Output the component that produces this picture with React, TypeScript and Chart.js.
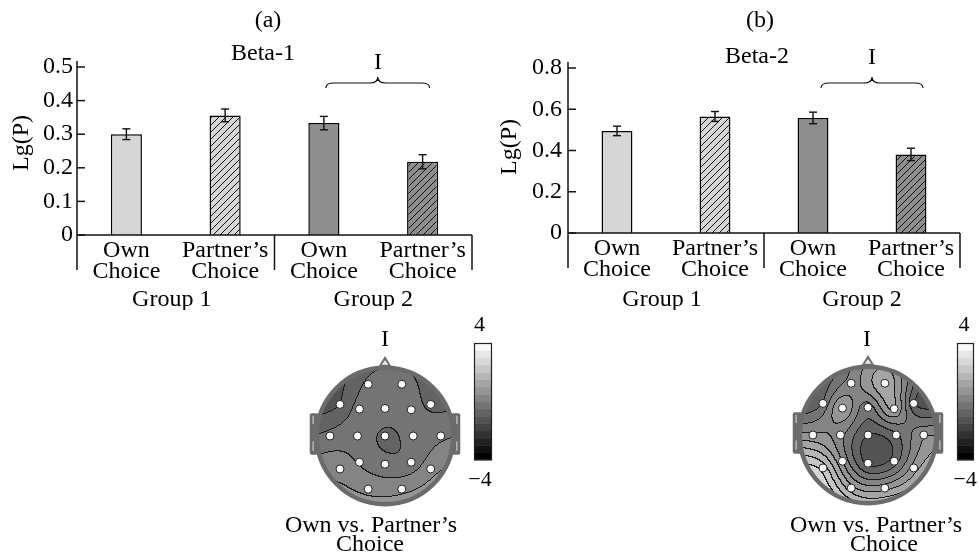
import React, { useEffect, useRef } from "react";
import { Chart, registerables } from "chart.js";
Chart.register(...registerables);

const FONT = "'Liberation Serif', 'Times New Roman', serif";

// ---------- data ----------
const categories = [["Own", "Choice"], ["Partner’s", "Choice"], ["Own", "Choice"], ["Partner’s", "Choice"]];
const groupLabels = ["Group 1", "Group 2"];
const beta1Values = [0.3, 0.356, 0.333, 0.218];
const beta1Errors = [0.016, 0.019, 0.02, 0.021];
const beta1Max = 0.5;
const beta1Step = 0.1;
const beta2Values = [0.495, 0.565, 0.558, 0.381];
const beta2Errors = [0.023, 0.024, 0.028, 0.03];
const beta2Max = 0.8;
const beta2Step = 0.2;

const electrodeNames = ["Fp1", "Fp2", "F7", "F3", "Fz", "F4", "F8", "T3", "C3", "Cz", "C4", "T4", "T5", "P3", "Pz", "P4", "T6", "O1", "O2"];
const electrodeX = [-0.25, 0.25, -0.67, -0.38, 0, 0.39, 0.68, -0.82, -0.41, 0, 0.42, 0.83, -0.67, -0.38, 0, 0.39, 0.68, -0.25, 0.25];
const electrodeY = [0.77, 0.77, 0.47, 0.4, 0.41, 0.39, 0.47, 0, 0, 0, 0, 0, -0.49, -0.39, -0.42, -0.39, -0.49, -0.79, -0.79];
const mapAValues = [-0.4, -0.3, -1.0, -0.3, -0.25, -0.3, -0.6, -0.35, -0.2, -0.6, -0.3, -0.1, 0.3, -0.05, -0.3, -0.3, 0.3, 0.35, 0.35];
const mapBValues = [0.2, 1.4, -0.5, 1.0, -0.3, 1.1, -0.9, 0.6, 0.2, -1.0, -0.6, 0.4, 2.3, 0.5, -1.1, -0.8, 0.7, 1.2, 0.8];
const colorbarMin = -4;
const colorbarMax = 4;
const colorLevels = 16;
const colorbarLabels = ["4", "−4"];
const mapTitle = "I";
const mapCaption = ["Own vs. Partner’s", "Choice"];

// ---------- helpers ----------
const INK = "#111";
const RIM = "#6b6b6b";

function hatch(bg: string) {
  const c = document.createElement("canvas");
  c.width = 7;
  c.height = 7;
  const g = c.getContext("2d")!;
  g.fillStyle = bg;
  g.fillRect(0, 0, 7, 7);
  g.strokeStyle = "#111";
  g.lineWidth = 1;
  g.beginPath();
  g.moveTo(-1, 8);
  g.lineTo(8, -1);
  g.moveTo(-1, 1);
  g.lineTo(1, -1);
  g.moveTo(6, 8);
  g.lineTo(8, 6);
  g.stroke();
  return g.createPattern(c, "repeat")!;
}

function line(ctx: CanvasRenderingContext2D, x1: number, y1: number, x2: number, y2: number) {
  ctx.beginPath();
  ctx.moveTo(x1, y1);
  ctx.lineTo(x2, y2);
  ctx.stroke();
}

function brace(ctx: CanvasRenderingContext2D, x1: number, x2: number, yEnd: number) {
  const xc = (x1 + x2) / 2;
  const yFlat = yEnd - 5;
  const yTip = yEnd - 11;
  const k = 8;
  ctx.beginPath();
  ctx.moveTo(x1, yEnd);
  ctx.quadraticCurveTo(x1, yFlat, x1 + k, yFlat);
  ctx.lineTo(xc - k, yFlat);
  ctx.quadraticCurveTo(xc, yFlat, xc, yTip);
  ctx.quadraticCurveTo(xc, yFlat, xc + k, yFlat);
  ctx.lineTo(x2 - k, yFlat);
  ctx.quadraticCurveTo(x2, yFlat, x2, yEnd);
  ctx.stroke();
}

function levelOf(v: number) {
  const k = Math.floor(((v - colorbarMin) / (colorbarMax - colorbarMin)) * colorLevels);
  return Math.min(colorLevels - 1, Math.max(0, k));
}
function grayOf(k: number) {
  return Math.round((k * 248) / (colorLevels - 1));
}

// thin-plate spline through the electrode values
function buildSurface(vals: number[]) {
  const n = electrodeX.length;
  const N = n + 3;
  const phi = (r: number) => (r > 1e-9 ? r * r * Math.log(r) : 0);
  const A: number[][] = Array.from({ length: N }, () => new Array(N + 1).fill(0));
  for (let i = 0; i < n; i++) {
    for (let j = 0; j < n; j++) {
      const r = Math.hypot(electrodeX[i] - electrodeX[j], electrodeY[i] - electrodeY[j]);
      A[i][j] = phi(r) + (i === j ? 0.002 : 0);
    }
    A[i][n] = 1;
    A[i][n + 1] = electrodeX[i];
    A[i][n + 2] = electrodeY[i];
    A[n][i] = 1;
    A[n + 1][i] = electrodeX[i];
    A[n + 2][i] = electrodeY[i];
    A[i][N] = vals[i];
  }
  for (let c = 0; c < N; c++) {
    let piv = c;
    for (let r = c + 1; r < N; r++) if (Math.abs(A[r][c]) > Math.abs(A[piv][c])) piv = r;
    [A[c], A[piv]] = [A[piv], A[c]];
    for (let r = 0; r < N; r++) {
      if (r === c) continue;
      const f = A[r][c] / A[c][c];
      if (f === 0) continue;
      for (let k = c; k <= N; k++) A[r][k] -= f * A[c][k];
    }
  }
  const sol = A.map((row, i) => row[N] / row[i]);
  return (x: number, y: number) => {
    let s = sol[n] + sol[n + 1] * x + sol[n + 2] * y;
    for (let i = 0; i < n; i++) s += sol[i] * phi(Math.hypot(x - electrodeX[i], y - electrodeY[i]));
    return s;
  };
}

// ---------- bar panels ----------
type BarSpec = {
  left: number; width: number; height: number;
  padTop: number; padRight: number; yAxisWidth: number; xAxisHeight: number; tickPad: number;
  values: number[]; errors: number[]; max: number; step: number;
  letter: string; letterPos: [number, number];
  band: string; bandPos: [number, number];
  yTitlePos: [number, number];
  braceOffsets: [number, number]; braceY: number; markPos: [number, number];
  groupY: number;
};

const barSpecs: BarSpec[] = [
  {
    left: 0, width: 490, height: 310, padTop: 67, padRight: 18, yAxisWidth: 77, xAxisHeight: 75, tickPad: 4,
    values: beta1Values, errors: beta1Errors, max: beta1Max, step: beta1Step,
    letter: "(a)", letterPos: [268, 21], band: "Beta-1", bandPos: [263, 54],
    yTitlePos: [22, 143], braceOffsets: [2, 7], braceY: 88, markPos: [378, 63], groupY: 300,
  },
  {
    left: 490, width: 489, height: 310, padTop: 68, padRight: 19, yAxisWidth: 78, xAxisHeight: 77, tickPad: 6,
    values: beta2Values, errors: beta2Errors, max: beta2Max, step: beta2Step,
    letter: "(b)", letterPos: [270, 21], band: "Beta-2", bandPos: [267, 57],
    yTitlePos: [20, 147], braceOffsets: [8, 12], braceY: 88, markPos: [382, 58], groupY: 300,
  },
];

function BarPanel({ spec }: { spec: BarSpec }) {
  const ref = useRef<HTMLCanvasElement>(null);
  useEffect(() => {
    const canvas = ref.current!;
    const fills: any[] = ["#d6d6d6", hatch("#d6d6d6"), "#8e8e8e", hatch("#8e8e8e")];
    const decor = {
      id: "decor",
      afterDatasetsDraw(chart: any) {
        const ctx: CanvasRenderingContext2D = chart.ctx;
        const xs = chart.scales.x;
        const ys = chart.scales.y;
        ctx.save();
        ctx.strokeStyle = INK;
        ctx.lineWidth = 1.4;
        spec.values.forEach((v, i) => {
          const px = xs.getPixelForValue(i);
          const t = ys.getPixelForValue(v + spec.errors[i]);
          const b = ys.getPixelForValue(v - spec.errors[i]);
          line(ctx, px, t, px, b);
          line(ctx, px - 4, t, px + 4, t);
          line(ctx, px - 4, b, px + 4, b);
        });
        ctx.restore();
      },
      afterDraw(chart: any) {
        const ctx: CanvasRenderingContext2D = chart.ctx;
        const xs = chart.scales.x;
        const ys = chart.scales.y;
        const area = chart.chartArea;
        const base = ys.getPixelForValue(0);
        const axisBottom = base + 35;
        ctx.save();
        ctx.strokeStyle = INK;
        ctx.lineWidth = 1.5;
        line(ctx, area.left, area.top - 6, area.left, axisBottom);
        line(ctx, area.left, base, area.right, base);
        line(ctx, area.right, base, area.right, axisBottom);
        const mid = (xs.getPixelForValue(1) + xs.getPixelForValue(2)) / 2;
        line(ctx, mid, base, mid, axisBottom);
        ys.ticks.forEach((t: any) => {
          const py = ys.getPixelForValue(t.value);
          line(ctx, area.left, py, area.left + 8, py);
        });
        ctx.lineWidth = 1.2;
        brace(ctx, xs.getPixelForValue(2) + spec.braceOffsets[0], xs.getPixelForValue(3) + spec.braceOffsets[1], spec.braceY);
        ctx.fillStyle = "#000";
        ctx.font = `24px ${FONT}`;
        ctx.textAlign = "center";
        ctx.textBaseline = "middle";
        ctx.fillText(spec.letter, spec.letterPos[0], spec.letterPos[1]);
        ctx.fillText(spec.band, spec.bandPos[0], spec.bandPos[1]);
        ctx.fillText(mapTitle, spec.markPos[0], spec.markPos[1]);
        groupLabels.forEach((g, gi) => {
          const px = (xs.getPixelForValue(gi * 2) + xs.getPixelForValue(gi * 2 + 1)) / 2 - (gi === 0 ? 4 : 0);
          ctx.fillText(g, px, spec.groupY);
        });
        ctx.translate(spec.yTitlePos[0], spec.yTitlePos[1]);
        ctx.rotate(-Math.PI / 2);
        ctx.fillText("Lg(P)", 0, 0);
        ctx.restore();
      },
    };
    const chart = new Chart(canvas, {
      type: "bar",
      data: {
        labels: categories,
        datasets: [
          {
            data: spec.values,
            backgroundColor: fills,
            borderColor: "#000",
            borderWidth: 1.5,
            barPercentage: 0.315,
            categoryPercentage: 1,
          },
        ],
      },
      options: {
        animation: false,
        responsive: false,
        devicePixelRatio: 1,
        layout: { padding: { top: spec.padTop, right: spec.padRight, left: 0, bottom: 0 } },
        plugins: { legend: { display: false }, tooltip: { enabled: false }, title: { display: false } },
        scales: {
          x: {
            grid: { display: false, drawTicks: false },
            border: { display: false },
            ticks: {
              color: "#000",
              font: { family: FONT, size: 24, lineHeight: 0.85 },
              padding: 6,
              maxRotation: 0,
              autoSkip: false,
            },
            afterFit: (s: any) => { s.height = spec.xAxisHeight; },
          },
          y: {
            min: 0,
            max: spec.max,
            grid: { display: false, drawTicks: false },
            border: { display: false },
            ticks: {
              stepSize: spec.step,
              color: "#000",
              font: { family: FONT, size: 24 },
              padding: spec.tickPad,
            },
            afterFit: (s: any) => { s.width = spec.yAxisWidth; },
          },
        },
      } as any,
      plugins: [decor],
    });
    return () => chart.destroy();
  }, [spec]);
  return (
    <canvas
      ref={ref}
      width={spec.width}
      height={spec.height}
      style={{ position: "absolute", left: spec.left, top: 0, width: spec.width, height: spec.height }}
    />
  );
}

// ---------- head maps ----------
type HeadSpec = {
  left: number; top: number; width: number; height: number;
  pad: { left: number; right: number; top: number; bottom: number };
  values: number[];
  bar: { x: number; y: number; w: number; h: number };
  markPos: [number, number]; topLabelPos: [number, number]; bottomLabelPos: [number, number];
  captionPos: [[number, number], [number, number]];
};

const headSpecs: HeadSpec[] = [
  {
    left: 260, top: 315, width: 240, height: 239,
    pad: { left: 41, right: 31, top: 37, bottom: 34 },
    values: mapAValues,
    bar: { x: 214, y: 28, w: 18, h: 117 },
    markPos: [125, 25], topLabelPos: [219.5, 10], bottomLabelPos: [220, 165],
    captionPos: [[111, 211], [110, 230]],
  },
  {
    left: 760, top: 315, width: 219, height: 239,
    pad: { left: 24, right: 27, top: 36, bottom: 35 },
    values: mapBValues,
    bar: { x: 197, y: 28, w: 17, h: 117 },
    markPos: [107, 25], topLabelPos: [204, 10], bottomLabelPos: [205, 165],
    captionPos: [[116, 211], [124, 230]],
  },
];

function HeadPanel({ spec }: { spec: HeadSpec }) {
  const ref = useRef<HTMLCanvasElement>(null);
  useEffect(() => {
    const canvas = ref.current!;
    const surface = buildSurface(spec.values);
    const head = {
      id: "head",
      beforeDatasetsDraw(chart: any) {
        const ctx: CanvasRenderingContext2D = chart.ctx;
        const x = chart.scales.x;
        const y = chart.scales.y;
        const P = (ux: number, uy: number): [number, number] => [x.getPixelForValue(ux), y.getPixelForValue(uy)];
        const cx = x.getPixelForValue(0);
        const cy = y.getPixelForValue(0);
        const r = x.getPixelForValue(1) - cx;
        ctx.save();
        // ears
        ctx.fillStyle = RIM;
        [-1, 1].forEach((s) => {
          const [ax, ay] = P(s < 0 ? -1.12 : 0.98, 0.34);
          const [bx, by] = P(s < 0 ? -0.98 : 1.12, -0.28);
          ctx.beginPath();
          (ctx as any).roundRect ? (ctx as any).roundRect(ax, ay, bx - ax, by - ay, 2) : ctx.rect(ax, ay, bx - ax, by - ay);
          ctx.fill();
        });
        ctx.strokeStyle = "#ddd";
        ctx.lineWidth = 1;
        [-1.07, 1.07].forEach((ex) => {
          let [a1, b1] = P(ex, 0.3);
          let [a2, b2] = P(ex, 0.18);
          line(ctx, a1, b1, a2, b2);
          [a1, b1] = P(ex, -0.08);
          [a2, b2] = P(ex, -0.22);
          line(ctx, a1, b1, a2, b2);
        });
        // nose
        ctx.fillStyle = RIM;
        ctx.beginPath();
        let p = P(-0.13, 0.98); ctx.moveTo(p[0], p[1]);
        p = P(0, 1.19); ctx.lineTo(p[0], p[1]);
        p = P(0.13, 0.98); ctx.lineTo(p[0], p[1]);
        ctx.closePath();
        ctx.fill();
        ctx.fillStyle = "#e8e8e8";
        ctx.beginPath();
        p = P(-0.05, 1.06); ctx.moveTo(p[0], p[1]);
        p = P(0, 1.13); ctx.lineTo(p[0], p[1]);
        p = P(0.05, 1.06); ctx.lineTo(p[0], p[1]);
        ctx.closePath();
        ctx.fill();
        // field
        const x0 = Math.floor(cx - r) - 1;
        const y0 = Math.floor(cy - r) - 1;
        const size = Math.ceil(2 * r) + 3;
        const lv = new Int16Array(size * size).fill(-1);
        for (let j = 0; j < size; j++) {
          for (let i = 0; i < size; i++) {
            const ux = x.getValueForPixel(x0 + i + 0.5);
            const uy = y.getValueForPixel(y0 + j + 0.5);
            if (ux * ux + uy * uy > 1.0) continue;
            lv[j * size + i] = levelOf(surface(ux, uy));
          }
        }
        const off = document.createElement("canvas");
        off.width = size;
        off.height = size;
        const octx = off.getContext("2d")!;
        const img = octx.createImageData(size, size);
        for (let j = 0; j < size; j++) {
          for (let i = 0; i < size; i++) {
            const k = lv[j * size + i];
            if (k < 0) continue;
            let g = grayOf(k);
            const kr = i + 1 < size ? lv[j * size + i + 1] : -1;
            const kb = j + 1 < size ? lv[(j + 1) * size + i] : -1;
            if ((kr >= 0 && kr !== k) || (kb >= 0 && kb !== k)) g = 25;
            const o = (j * size + i) * 4;
            img.data[o] = g;
            img.data[o + 1] = g;
            img.data[o + 2] = g;
            img.data[o + 3] = 255;
          }
        }
        octx.putImageData(img, 0, 0);
        ctx.drawImage(off, x0, y0);
        // rim
        ctx.strokeStyle = RIM;
        ctx.lineWidth = 4.5;
        ctx.beginPath();
        ctx.arc(cx, cy, r + 1, 0, Math.PI * 2);
        ctx.stroke();
        ctx.restore();
      },
      afterDraw(chart: any) {
        const ctx: CanvasRenderingContext2D = chart.ctx;
        const b = spec.bar;
        ctx.save();
        const bandH = b.h / colorLevels;
        for (let k = 0; k < colorLevels; k++) {
          const g = grayOf(k);
          ctx.fillStyle = `rgb(${g},${g},${g})`;
          ctx.fillRect(b.x, b.y + b.h - (k + 1) * bandH, b.w, bandH + 0.5);
        }
        ctx.strokeStyle = "#222";
        ctx.lineWidth = 1.2;
        ctx.strokeRect(b.x + 0.5, b.y + 0.5, b.w - 1, b.h - 1);
        ctx.fillStyle = "#000";
        ctx.textAlign = "center";
        ctx.textBaseline = "middle";
        ctx.font = `22px ${FONT}`;
        ctx.fillText(colorbarLabels[0], spec.topLabelPos[0], spec.topLabelPos[1]);
        ctx.fillText(colorbarLabels[1], spec.bottomLabelPos[0], spec.bottomLabelPos[1]);
        ctx.font = `24px ${FONT}`;
        ctx.fillText(mapTitle, spec.markPos[0], spec.markPos[1]);
        ctx.fillText(mapCaption[0], spec.captionPos[0][0], spec.captionPos[0][1]);
        ctx.fillText(mapCaption[1], spec.captionPos[1][0], spec.captionPos[1][1]);
        ctx.restore();
      },
    };
    const chart = new Chart(canvas, {
      type: "scatter",
      data: {
        datasets: [
          {
            label: "electrodes",
            data: electrodeNames.map((_, i) => ({ x: electrodeX[i], y: electrodeY[i] })),
            pointRadius: 4,
            pointBackgroundColor: "#fff",
            pointBorderColor: "#222",
            pointBorderWidth: 1,
            showLine: false,
          },
        ],
      },
      options: {
        animation: false,
        responsive: false,
        devicePixelRatio: 1,
        layout: { padding: spec.pad },
        plugins: { legend: { display: false }, tooltip: { enabled: false } },
        scales: {
          x: { type: "linear", min: -1.25, max: 1.25, display: false },
          y: { type: "linear", min: -1.25, max: 1.25, display: false },
        },
      } as any,
      plugins: [head],
    });
    return () => chart.destroy();
  }, [spec]);
  return (
    <canvas
      ref={ref}
      width={spec.width}
      height={spec.height}
      style={{ position: "absolute", left: spec.left, top: spec.top, width: spec.width, height: spec.height }}
    />
  );
}

export default function App() {
  return (
    <div style={{ position: "fixed", left: 0, top: 0, width: 979, height: 554, background: "#fff", overflow: "hidden" }}>
      {barSpecs.map((s, i) => (
        <BarPanel key={"b" + i} spec={s} />
      ))}
      {headSpecs.map((s, i) => (
        <HeadPanel key={"h" + i} spec={s} />
      ))}
    </div>
  );
}
